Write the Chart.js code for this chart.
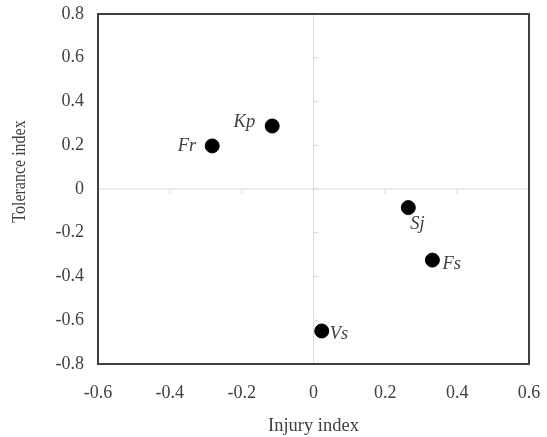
<!DOCTYPE html>
<html>
<head>
<meta charset="utf-8">
<script src="https://cdn.jsdelivr.net/npm/chart.js@4"></script>
<style>
  html, body { margin: 0; padding: 0; background: #fff; }
  #wrap { width: 547px; height: 437px; }
</style>
</head>
<body>
<div id="wrap"><canvas id="scatterChart"></canvas></div>
<script>
// Species and their indices
const speciesLabels = ['Fr', 'Kp', 'Sj', 'Fs', 'Vs'];
const injuryIndex = [-0.282, -0.115, 0.264, 0.331, 0.023];
const toleranceIndex = [0.197, 0.288, -0.085, -0.325, -0.649];
const xTitle = 'Injury index';
const yTitle = 'Tolerance index';

// where each name sits next to its dot
const labelPlacement = [
    { dx: -16, dy: 0, align: 'right' },
    { dx: -17, dy: -4, align: 'right' },
    { dx: 2, dy: 17, align: 'left' },
    { dx: 10, dy: 4, align: 'left' },
    { dx: 8, dy: 3, align: 'left' }
];

const axisColor = '#404040';
const zeroLineColor = '#d9d9d9';
const serif = '"Liberation Serif", "Times New Roman", serif';

// Box round plot area, zero lines with their little ticks, point names, y title
const frameAndLabels = {
    id: 'frameAndLabels',
    beforeDatasetsDraw(chart) {
        const { ctx, chartArea: a, scales } = chart;
        const x0 = scales.x.getPixelForValue(0);
        const y0 = scales.y.getPixelForValue(0);
        ctx.save();
        ctx.strokeStyle = zeroLineColor;
        ctx.lineWidth = 1;
        ctx.beginPath();
        ctx.moveTo(a.left, y0); ctx.lineTo(a.right, y0);
        ctx.moveTo(x0, a.top); ctx.lineTo(x0, a.bottom);
        scales.x.ticks.forEach(t => {
            const px = scales.x.getPixelForValue(t.value);
            ctx.moveTo(px, y0); ctx.lineTo(px, y0 + 5);
        });
        scales.y.ticks.forEach(t => {
            const py = scales.y.getPixelForValue(t.value);
            ctx.moveTo(x0, py); ctx.lineTo(x0 + 5, py);
        });
        ctx.stroke();
        ctx.strokeStyle = axisColor;
        ctx.lineWidth = 2;
        ctx.strokeRect(a.left, a.top, a.right - a.left, a.bottom - a.top);

        // y axis title, sits a bit above the middle like the original
        // (the original picture is a little stretched sideways, so the glyphs are too)
        ctx.translate(20, a.top + (a.bottom - a.top) * 0.45);
        ctx.rotate(-Math.PI / 2);
        ctx.scale(1, 1.15);
        ctx.font = '16px ' + serif;
        ctx.fillStyle = axisColor;
        ctx.textAlign = 'center';
        ctx.textBaseline = 'middle';
        ctx.fillText(yTitle, 0, 0);
        ctx.restore();
    },
    afterDatasetsDraw(chart) {
        const { ctx } = chart;
        const meta = chart.getDatasetMeta(0);
        ctx.save();
        ctx.font = 'italic 18.5px ' + serif;
        ctx.fillStyle = axisColor;
        ctx.textBaseline = 'middle';
        meta.data.forEach((pt, i) => {
            const p = labelPlacement[i];
            ctx.textAlign = p.align;
            ctx.fillText(speciesLabels[i], pt.x + p.dx, pt.y + p.dy);
        });
        ctx.restore();
    }
};

function tickText(v) {
    return Math.abs(v) < 1e-9 ? '0' : String(+v.toFixed(1));
}

new Chart(document.getElementById('scatterChart'), {
    type: 'scatter',
    data: {
        datasets: [{
            data: injuryIndex.map((v, i) => ({ x: v, y: toleranceIndex[i] })),
            backgroundColor: '#000',
            borderColor: '#000',
            pointRadius: 7,
            pointHoverRadius: 7
        }]
    },
    options: {
        responsive: true,
        maintainAspectRatio: false,
        animation: false,
        layout: { padding: { top: 14, right: 18, left: 0, bottom: 0 } },
        plugins: {
            legend: { display: false },
            tooltip: { enabled: false }
        },
        scales: {
            x: {
                min: -0.6,
                max: 0.6,
                grid: { display: false, drawTicks: false },
                border: { display: false },
                afterFit(scale) {
                    scale.height = 73;
                    scale.paddingLeft = 0;
                    scale.paddingRight = 0;
                },
                ticks: {
                    stepSize: 0.2,
                    padding: 18,
                    maxRotation: 0,
                    color: axisColor,
                    font: { family: serif, size: 18 },
                    callback: tickText
                },
                title: {
                    display: true,
                    text: xTitle,
                    color: axisColor,
                    font: { family: serif, size: 18.5 },
                    padding: { top: 0, bottom: 0 }
                }
            },
            y: {
                min: -0.8,
                max: 0.8,
                grid: { display: false, drawTicks: false },
                border: { display: false },
                afterFit(scale) {
                    scale.width = 98;
                    scale.paddingTop = 0;
                    scale.paddingBottom = 0;
                },
                ticks: {
                    stepSize: 0.2,
                    padding: 14,
                    color: axisColor,
                    font: { family: serif, size: 18 },
                    callback: tickText
                },
                title: { display: false }
            }
        }
    },
    plugins: [frameAndLabels]
});
</script>
</body>
</html>
